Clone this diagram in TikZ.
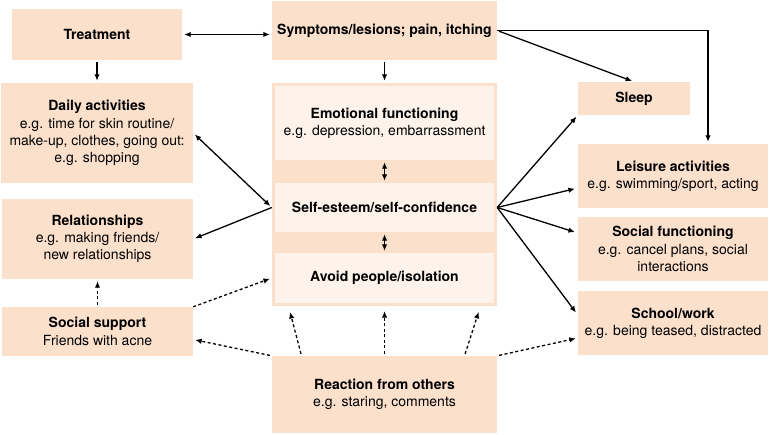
\documentclass[tikz,border=0pt]{standalone}
\usepackage{fontspec}
\setmainfont{TeX Gyre Heros}
\usetikzlibrary{arrows.meta}
\definecolor{peach}{HTML}{FBE0CC}
\definecolor{cream}{HTML}{FDF3EA}
\tikzset{
        box/.style={fill=peach, align=center, inner sep=0pt, font=\fontsize{14}{17.3}\selectfont},
        inbox/.style={box, fill=cream, minimum width=219pt},
        arr/.style={-{Latex[length=6.5pt,width=5.5pt]}, line width=1.3pt, shorten >=2pt, shorten <=2pt},
        barr/.style={arr, {Latex[length=6.5pt,width=5.5pt]}-{Latex[length=6.5pt,width=5.5pt]}},
        darr/.style={arr, dash pattern=on 3pt off 2.5pt}
}
\begin{document}
\begin{tikzpicture}[x=1pt,y=-1pt]
        \useasboundingbox[fill=white] (0,0) rectangle (770,435);
        \node[box, minimum width=170pt, minimum height=51pt] (treat) at (97,34.5) {\textbf{Treatment}};
        \node[box, minimum width=225pt, minimum height=59pt] (symp) at (384.5,30.5) {\textbf{Symptoms/lesions; pain, itching}};
        \node[box, minimum width=192pt, minimum height=100pt] (daily) at (97,133) {\textbf{Daily activities}\\e.g. time for skin routine/\\make-up, clothes, going out:\\e.g. shopping};
        \node[box, minimum width=191pt, minimum height=80pt] (rel) at (97.5,239) {\textbf{Relationships}\\e.g. making friends/\\new relationships};
        \node[box, minimum width=191pt, minimum height=49pt] (supp) at (97.5,331.5) {\textbf{Social support}\\Friends with acne};
        \node[box, minimum width=225pt, minimum height=223pt] (core) at (384.5,194.5) {};
        \node[inbox, minimum height=74pt] (emo) at (384.5,123) {\textbf{Emotional functioning}\\e.g. depression, embarrassment};
        \node[inbox, minimum height=49pt] (self) at (384.5,207.5) {\textbf{Self-esteem/self-confidence}};
        \node[inbox, minimum height=50pt] (avoid) at (384.5,278) {\textbf{Avoid people/isolation}};
        \node[box, minimum width=225pt, minimum height=77pt] (react) at (384.5,394.5) {\textbf{Reaction from others}\\e.g. staring, comments};
        \node[box, minimum width=112pt, minimum height=33pt] (sleep) at (634,98.5) {\textbf{Sleep}};
        \node[box, minimum width=190pt, minimum height=64pt] (leis) at (673,176) {\textbf{Leisure activities}\\e.g. swimming/sport, acting};
        \node[box, minimum width=190pt, minimum height=64pt] (socf) at (673,249) {\textbf{Social functioning}\\e.g. cancel plans, social\\interactions};
        \node[box, minimum width=190pt, minimum height=64pt] (school) at (673,323) {\textbf{School/work}\\e.g. being teased, distracted};
        \coordinate (selfR) at (self.east -| core.east);
        \coordinate (selfL) at (self.west -| core.west);
        \coordinate (avoidL) at (avoid.west -| core.west);
        \draw[barr] (treat.east) -- (treat.east -| symp.west);
        \draw[arr] (treat.south) -- (daily.north);
        \draw[arr] (symp.south) -- (core.north);
        \draw[arr] (symp.east) -- (sleep.north);
        \draw[arr, shorten <=0pt] (symp.east) -| ([xshift=35pt]leis.north);
        \draw[barr] (emo.south) -- (self.north);
        \draw[barr] (self.south) -- (avoid.north);
        \draw[arr, shorten <=0pt] (selfR) -- (sleep.south west);
        \draw[arr, shorten <=0pt, shorten >=3pt] (selfR) -- ([yshift=-12pt]leis.west);
        \draw[arr, shorten <=0pt, shorten >=3pt] (selfR) -- ([yshift=16pt]socf.west);
        \draw[arr, shorten <=0pt, shorten >=3pt] (selfR) -- ([yshift=8pt]school.west);
        \draw[barr] (daily.east) -- (selfL);
        \draw[arr, shorten <=0pt] (selfL) -- (rel.east);
        \draw[darr] (supp.north) -- (rel.south);
        \draw[darr, shorten <=0pt] (supp.north east) -- (avoidL);
        \draw[darr] (react.north west) -- ([yshift=-8pt]supp.east);
        \draw[darr] (react.north east) -- ([yshift=-15pt]school.west);
        \draw[darr, shorten >=6pt] ([xshift=-83pt]react.north) -- ([xshift=-96pt]core.south);
        \draw[darr, shorten >=5pt] (react.north) -- (core.south);
        \draw[darr, shorten >=6pt] ([xshift=80pt]react.north) -- ([xshift=96pt]core.south);
\end{tikzpicture}
\end{document}
